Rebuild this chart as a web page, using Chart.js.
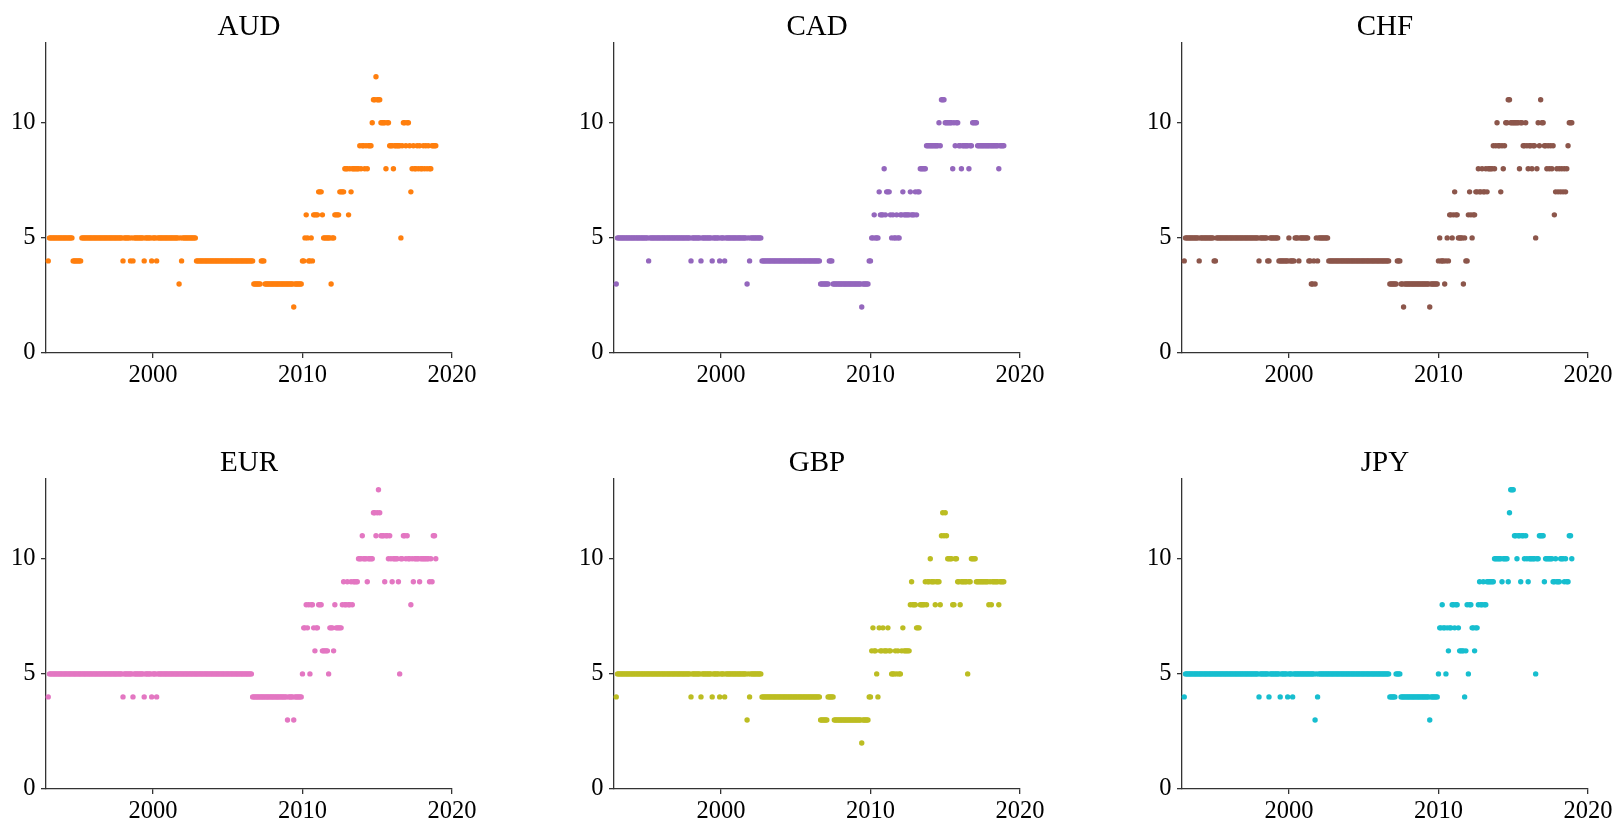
<!DOCTYPE html>
<html lang="en">
<head>
    <meta charset="UTF-8">
    <title>Monthly values by currency</title>
    <script src="https://cdn.jsdelivr.net/npm/chart.js"></script>

    <style>
        body {
            margin: 0;
            width: 1617px;
            height: 822px;
            overflow: hidden;
            position: relative;
            background: #fff;
            font-family: 'Liberation Serif', 'Times New Roman', serif;
        }
        .panel {
            position: absolute;
            width: 482px;
            height: 379px;
        }
        .panel canvas {
            position: absolute;
            left: 0;
            top: 0;
        }
        .panel h2 {
            position: absolute;
            left: 44px;
            width: 406px;
            top: -11px;
            margin: 0;
            font-size: 29px;
            line-height: 29px;
            font-weight: normal;
            text-align: center;
            color: #000;
        }
    </style>
</head>
<body>

    <div id="grid"></div>

    <script>
        // One row per year (1993 - 2018), one value per month
        const firstYear = 1993;

        const audValues = [
            [4,5,5,5,5,5,5,5,5,5,5,5],
            [5,5,5,5,5,5,5,5,4,4,4,4],
            [4,4,4,5,5,5,5,5,5,5,5,5],
            [5,5,5,5,5,5,5,5,5,5,5,5],
            [5,5,5,5,5,5,5,5,5,5,5,5],
            [4,5,5,5,5,5,4,5,4,5,5,5],
            [5,5,5,5,5,4,5,5,5,5,5,4],
            [5,5,5,4,5,5,5,5,5,5,5,5],
            [5,5,5,5,5,5,5,5,5,3,5,4],
            [5,5,5,5,5,5,5,5,5,5,5,4],
            [4,4,4,4,4,4,4,4,4,4,4,4],
            [4,4,4,4,4,4,4,4,4,4,4,4],
            [4,4,4,4,4,4,4,4,4,4,4,4],
            [4,4,4,4,4,4,4,4,4,3,3,3],
            [3,3,3,4,4,4,3,3,3,3,3,3],
            [3,3,3,3,3,3,3,3,3,3,3,3],
            [3,3,3,3,3,2,3,3,3,3,3,3],
            [4,4,5,6,5,4,4,5,4,6,6,6],
            [6,7,7,7,6,5,5,5,5,5,5,3],
            [5,5,6,6,6,6,7,7,7,7,8,8],
            [8,6,8,7,8,8,8,8,8,8,9,8],
            [9,9,8,9,8,9,9,9,10,11,11,12],
            [11,11,11,10,10,10,10,8,10,10,9,9],
            [9,8,9,9,9,9,9,5,9,10,10,9],
            [10,10,9,7,8,9,8,8,9,8,9,8],
            [8,9,8,9,8,9,8,8,9,9,9,9]
        ];

        const cadValues = [
            [3,5,5,5,5,5,5,5,5,5,5,5],
            [5,5,5,5,5,5,5,5,5,5,5,5],
            [5,5,4,5,5,5,5,5,5,5,5,5],
            [5,5,5,5,5,5,5,5,5,5,5,5],
            [5,5,5,5,5,5,5,5,5,5,5,5],
            [4,5,5,5,5,5,5,5,4,5,5,5],
            [5,5,5,5,5,4,5,5,5,5,5,4],
            [5,5,5,4,5,5,5,5,5,5,5,5],
            [5,5,5,5,5,5,5,5,5,3,5,4],
            [5,5,5,5,5,5,5,5,5,4,4,4],
            [4,4,4,4,4,4,4,4,4,4,4,4],
            [4,4,4,4,4,4,4,4,4,4,4,4],
            [4,4,4,4,4,4,4,4,4,4,4,4],
            [4,4,4,4,4,4,4,4,3,3,3,3],
            [3,3,3,4,4,4,3,3,3,3,3,3],
            [3,3,3,3,3,3,3,3,3,3,3,3],
            [3,3,3,3,3,2,3,3,3,3,3,4],
            [4,5,5,6,5,5,5,7,6,6,6,8],
            [6,7,7,7,6,5,6,5,5,6,5,5],
            [6,6,7,6,6,6,6,6,7,6,6,6],
            [7,6,7,7,8,8,8,8,8,9,9,9],
            [9,9,9,9,9,9,9,10,9,11,11,11],
            [10,10,10,10,10,10,8,10,9,10,10,9],
            [9,8,9,9,9,9,9,8,9,9,10,10],
            [10,10,9,9,9,9,9,9,9,9,9,9],
            [9,9,9,9,9,9,9,8,9,9,9,9]
        ];

        const chfValues = [
            [4,5,5,5,5,5,5,5,5,5,5,5],
            [4,5,5,5,5,5,5,5,5,5,5,5],
            [4,4,5,5,5,5,5,5,5,5,5,5],
            [5,5,5,5,5,5,5,5,5,5,5,5],
            [5,5,5,5,5,5,5,5,5,5,5,5],
            [4,5,5,5,5,5,5,4,4,5,5,5],
            [5,5,5,5,4,4,4,4,4,4,4,4],
            [5,4,4,4,4,5,5,5,4,5,5,5],
            [5,5,5,5,4,4,3,3,4,3,5,4],
            [5,5,5,5,5,5,5,5,4,4,4,4],
            [4,4,4,4,4,4,4,4,4,4,4,4],
            [4,4,4,4,4,4,4,4,4,4,4,4],
            [4,4,4,4,4,4,4,4,4,4,4,4],
            [4,4,4,4,4,4,4,4,4,3,3,3],
            [3,3,3,4,4,4,3,3,2,3,3,3],
            [3,3,3,3,3,3,3,3,3,3,3,3],
            [3,3,3,3,3,2,3,3,3,3,3,3],
            [4,5,4,4,4,3,4,5,4,6,6,5],
            [6,7,6,6,5,5,5,5,3,5,4,4],
            [6,7,6,5,6,6,7,7,8,7,7,8],
            [7,7,8,7,8,8,8,8,9,8,9,10],
            [9,9,7,9,8,9,10,10,11,11,10,10],
            [10,10,10,10,10,8,10,10,9,9,10,9],
            [8,9,9,8,9,9,5,8,10,9,11,10],
            [10,9,9,8,9,8,9,8,9,6,7,8],
            [7,8,7,8,7,8,7,8,9,10,10,10]
        ];

        const eurValues = [
            [4,5,5,5,5,5,5,5,5,5,5,5],
            [5,5,5,5,5,5,5,5,5,5,5,5],
            [5,5,5,5,5,5,5,5,5,5,5,5],
            [5,5,5,5,5,5,5,5,5,5,5,5],
            [5,5,5,5,5,5,5,5,5,5,5,5],
            [4,5,5,5,5,5,5,5,4,5,5,5],
            [5,5,5,5,5,4,5,5,5,5,5,4],
            [5,5,5,4,5,5,5,5,5,5,5,5],
            [5,5,5,5,5,5,5,5,5,5,5,5],
            [5,5,5,5,5,5,5,5,5,5,5,5],
            [5,5,5,5,5,5,5,5,5,5,5,5],
            [5,5,5,5,5,5,5,5,5,5,5,5],
            [5,5,5,5,5,5,5,5,5,5,5,5],
            [5,5,5,5,5,5,5,5,4,4,4,4],
            [4,4,4,4,4,4,4,4,4,4,4,4],
            [4,4,4,4,4,4,4,4,4,4,4,4],
            [3,4,4,4,4,3,4,4,4,4,4,4],
            [5,7,7,8,7,8,5,8,8,7,6,7],
            [7,8,8,8,6,6,6,6,6,5,7,7],
            [7,6,8,7,7,7,7,7,8,9,8,8],
            [9,8,8,9,8,9,9,9,9,10,10,10],
            [11,10,10,10,9,10,10,10,10,12,12,11],
            [12,13,12,11,11,11,9,11,11,10,11,10],
            [9,10,10,10,10,9,5,10,10,11,11,10],
            [11,10,10,8,10,9,10,10,10,10,9,10],
            [10,10,10,10,10,10,9,10,9,11,11,10]
        ];

        const gbpValues = [
            [4,5,5,5,5,5,5,5,5,5,5,5],
            [5,5,5,5,5,5,5,5,5,5,5,5],
            [5,5,5,5,5,5,5,5,5,5,5,5],
            [5,5,5,5,5,5,5,5,5,5,5,5],
            [5,5,5,5,5,5,5,5,5,5,5,5],
            [4,5,5,5,5,5,5,5,4,5,5,5],
            [5,5,5,5,5,4,5,5,5,5,5,4],
            [5,5,5,4,5,5,5,5,5,5,5,5],
            [5,5,5,5,5,5,5,5,5,3,5,4],
            [5,5,5,5,5,5,5,5,5,4,4,4],
            [4,4,4,4,4,4,4,4,4,4,4,4],
            [4,4,4,4,4,4,4,4,4,4,4,4],
            [4,4,4,4,4,4,4,4,4,4,4,4],
            [4,4,4,4,4,4,4,4,3,3,3,3],
            [3,3,4,4,4,4,4,3,3,3,3,3],
            [3,3,3,3,3,3,3,3,3,3,3,3],
            [3,3,3,3,3,2,3,3,3,3,3,4],
            [4,6,7,6,6,5,4,7,6,6,7,6],
            [6,6,7,6,6,5,5,5,6,5,6,5],
            [5,6,7,6,6,6,6,6,8,9,8,8],
            [8,7,7,7,8,8,8,8,9,8,9,9],
            [10,9,9,9,8,9,9,9,8,11,12,11],
            [12,11,10,10,10,10,8,8,10,10,9,9],
            [8,9,9,9,9,9,5,9,9,10,10,10],
            [10,9,9,9,9,9,9,9,9,9,9,8],
            [9,8,9,9,9,9,9,8,9,9,9,9]
        ];

        const jpyValues = [
            [4,5,5,5,5,5,5,5,5,5,5,5],
            [5,5,5,5,5,5,5,5,5,5,5,5],
            [5,5,5,5,5,5,5,5,5,5,5,5],
            [5,5,5,5,5,5,5,5,5,5,5,5],
            [5,5,5,5,5,5,5,5,5,5,5,5],
            [4,5,5,5,5,5,5,5,4,5,5,5],
            [5,5,5,5,5,4,5,5,5,5,5,4],
            [5,5,5,4,5,5,5,5,5,5,5,5],
            [5,5,5,5,5,5,5,5,5,3,5,4],
            [5,5,5,5,5,5,5,5,5,5,5,5],
            [5,5,5,5,5,5,5,5,5,5,5,5],
            [5,5,5,5,5,5,5,5,5,5,5,5],
            [5,5,5,5,5,5,5,5,5,5,5,5],
            [5,5,5,5,5,5,5,5,5,4,4,4],
            [4,4,5,5,5,5,4,4,4,4,4,4],
            [4,4,4,4,4,4,4,4,4,4,4,4],
            [4,4,4,4,4,3,4,4,4,4,4,4],
            [5,7,7,8,7,7,5,7,6,7,7,8],
            [8,7,8,8,7,6,6,6,6,4,6,8],
            [5,8,8,7,7,6,7,7,8,9,8,8],
            [9,8,8,9,9,9,9,9,9,10,10,10],
            [10,10,10,9,10,10,10,10,9,12,13,13],
            [13,11,11,10,11,11,9,11,11,10,11,10],
            [9,10,10,10,10,10,5,10,10,11,11,11],
            [11,9,10,10,10,10,10,10,9,9,10,9],
            [9,9,10,10,10,9,10,9,9,11,11,10]
        ];

        const currencies = ['AUD', 'CAD', 'CHF', 'EUR', 'GBP', 'JPY'];
        const seriesValues = [audValues, cadValues, chfValues, eurValues, gbpValues, jpyValues];
        const seriesColors = ['#ff7f0e', '#9467bd', '#8c564b', '#e377c2', '#bcbd22', '#17becf'];

        const xTicks = [2000, 2010, 2020];
        const yTicks = [0, 5, 10];

        // panel placement on the page (2 rows x 3 columns)
        const panelLeft = [2, 570, 1138];
        const panelTop = [22, 458];

        Chart.defaults.font.family = "'Liberation Serif', 'Times New Roman', serif";
        Chart.defaults.color = '#000';

        function toPoints(rows) {
            const points = [];
            rows.forEach((row, i) => {
                row.forEach((v, j) => {
                    points.push({ x: firstYear + i + j / 12, y: v });
                });
            });
            return points;
        }

        const axisColor = '#333';
        const grid = document.getElementById('grid');

        currencies.forEach((name, k) => {
            const panel = document.createElement('div');
            panel.className = 'panel';
            panel.style.left = panelLeft[k % 3] + 'px';
            panel.style.top = panelTop[Math.floor(k / 3)] + 'px';

            const canvas = document.createElement('canvas');
            canvas.width = 482;
            canvas.height = 379;
            panel.appendChild(canvas);

            const title = document.createElement('h2');
            title.textContent = name;
            panel.appendChild(title);
            grid.appendChild(panel);

            new Chart(canvas.getContext('2d'), {
                type: 'scatter',
                data: {
                    datasets: [{
                        label: name,
                        data: toPoints(seriesValues[k]),
                        backgroundColor: seriesColors[k],
                        pointRadius: 2.7,
                        pointBorderWidth: 0,
                        clip: false
                    }]
                },
                options: {
                    responsive: false,
                    animation: false,
                    devicePixelRatio: 1,
                    events: [],
                    layout: { padding: { left: 0, right: 32, top: 20, bottom: 0 } },
                    plugins: {
                        legend: { display: false },
                        tooltip: { enabled: false }
                    },
                    scales: {
                        x: {
                            type: 'linear',
                            min: 1992.85,
                            max: 2020,
                            afterBuildTicks: s => { s.ticks = xTicks.map(v => ({ value: v })); },
                            afterFit: s => { s.height = 48; },
                            ticks: {
                                font: { size: 24.5, lineHeight: 1 },
                                padding: 5,
                                maxRotation: 0,
                                autoSkip: false,
                                callback: v => String(v)
                            },
                            grid: { drawOnChartArea: false, tickLength: 5, color: axisColor, lineWidth: 1.3 },
                            border: { color: axisColor, width: 1.3 }
                        },
                        y: {
                            min: 0,
                            max: 13.5,
                            afterBuildTicks: s => { s.ticks = yTicks.map(v => ({ value: v })); },
                            afterFit: s => { s.width = 44; },
                            ticks: { font: { size: 24.5 }, padding: 5.5 },
                            grid: { drawOnChartArea: false, tickLength: 5, color: axisColor, lineWidth: 1.3 },
                            border: { color: axisColor, width: 1.3 }
                        }
                    }
                }
            });
        });
    </script>

</body>
</html>
